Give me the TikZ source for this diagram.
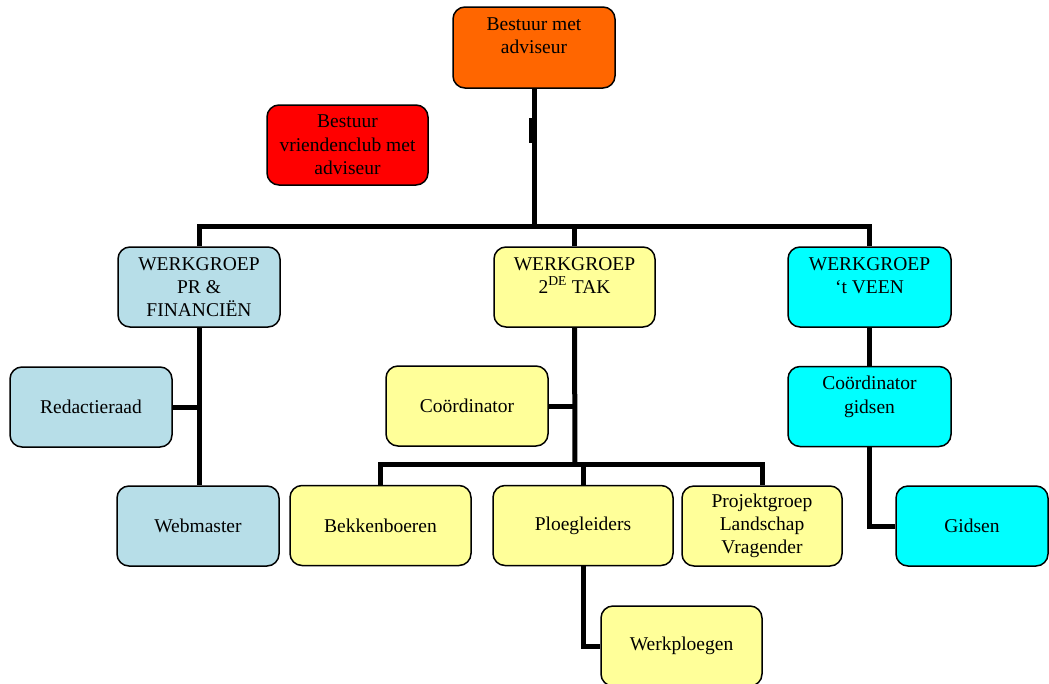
\documentclass[tikz,border=0pt]{standalone}
\usepackage{fontspec}
\setmainfont{Liberation Serif}
\usepackage{tikz}
\usetikzlibrary{positioning}

\definecolor{oranje}{HTML}{FF6600}
\definecolor{rood}{HTML}{FF0000}
\definecolor{lichtblauw}{HTML}{B7DEE8}
\definecolor{geel}{HTML}{FFFF99}
\definecolor{turkoois}{HTML}{00FFFF}

\begin{document}
\begin{tikzpicture}[x=1pt, y=-1pt,
    box/.style={draw, rectangle, rounded corners=12pt, line width=1.5pt, align=center,
        minimum width=162pt, minimum height=80pt, inner sep=0pt,
        font=\fontsize{19.5}{23.3}\selectfont},
    lijn/.style={line width=5pt, line join=miter}]
    \useasboundingbox (0,0) rectangle (1049,683);

    % bestuur
    \node[box, fill=oranje, minimum height=81pt] (bestuur) at (534,47.5) {Bestuur met\\adviseur\\~};
    \node[box, fill=rood, minimum width=161pt] (vrienden) at (347.5,145) {Bestuur\\vriendenclub met\\adviseur};

    % werkgroepen
    \node[box, fill=lichtblauw] (pr) at (199,287) {WERKGROEP\\PR \&\\FINANCIËN};
    \node[box, fill=geel, minimum width=161pt] (tak) at (574.5,287) {WERKGROEP\\2\textsuperscript{DE} TAK\\~};
    \node[box, fill=turkoois, minimum width=163pt] (veen) at (869.5,287) {WERKGROEP\\‘t VEEN\\~};

    % PR & financien
    \node[box, fill=lichtblauw] (redactie) at (91,407) {Redactieraad};
    \node[box, fill=lichtblauw] (webmaster) at (198,526) {Webmaster};

    % 2de tak
    \node[box, fill=geel] (coord) at (467,406) {Coördinator};
    \node[box, fill=geel, minimum width=181pt] (bekken) at (380.5,525.5) {Bekkenboeren};
    \node[box, fill=geel, minimum width=180pt] (ploeg) at (583,525.5) {Ploegleiders};
    \node[box, fill=geel, minimum width=160pt] (projekt) at (762,526) {Projektgroep\\Landschap\\Vragender};
    \node[box, fill=geel, minimum width=161pt] (werk) at (681.5,646) {Werkploegen};

    % 't Veen
    \node[box, fill=turkoois, minimum width=163pt] (coordg) at (869.5,406.5) {Coördinator\\gidsen\\~};
    \node[box, fill=turkoois, minimum width=152pt] (gidsen) at (972,526) {Gidsen};

    % verbindingen
    \coordinate (bus) at (534,227);
    \coordinate (bus2) at (575,465);
    \draw[lijn] (bestuur.south) -- (bus);
    \draw[line width=3pt] (530.5,118) -- (530.5,143);
    \draw[lijn] (pr.north) -- ++(0,-20) -| (veen.north);
    \draw[lijn] (tak.north) -- ++(0,-20);

    \draw[lijn] (pr.south) -- (pr.south |- webmaster.north);
    \draw[lijn] (redactie.east) -- (redactie.east -| pr.south);

    \draw[lijn] (tak.south) -- (bus2);
    \draw[lijn] (coord.east) -- (coord.east -| tak.south);
    \draw[lijn] (bekken.north) -- ++(0,-20) -| (projekt.north);
    \draw[lijn] (ploeg.north) -- ++(0,-20);
    \draw[lijn] (ploeg.south) |- (werk.west);

    \draw[lijn] (veen.south) -- (coordg.north);
    \draw[lijn] (coordg.south) |- (gidsen.west);
\end{tikzpicture}
\end{document}
